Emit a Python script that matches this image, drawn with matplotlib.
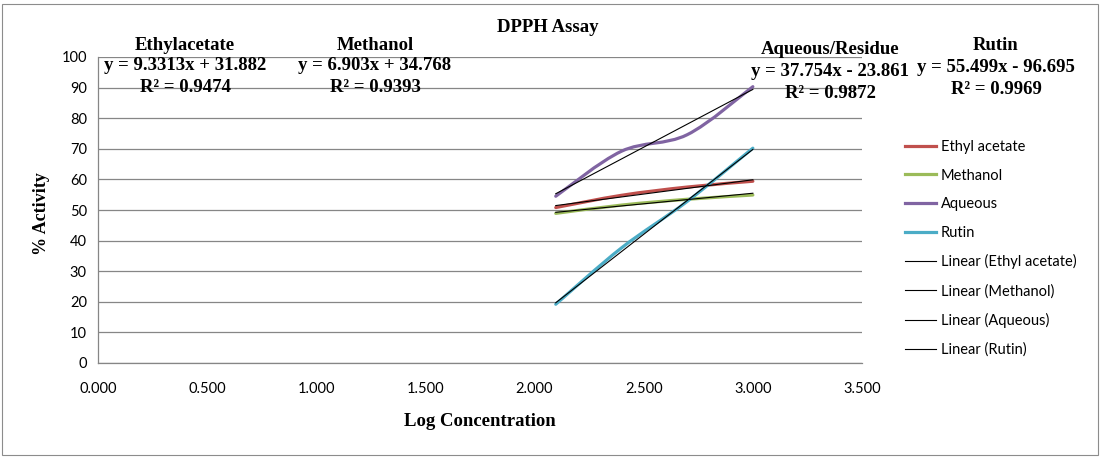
import matplotlib
matplotlib.use("Agg")
import matplotlib.pyplot as plt
from matplotlib.path import Path
from matplotlib.patches import PathPatch, Rectangle
from matplotlib.lines import Line2D
import numpy as np

# ---- data ----
log_conc = [2.097, 2.398, 2.699, 3.000]
series_names = ["Ethyl acetate", "Methanol", "Aqueous", "Rutin"]
ethyl_acetate = [50.8, 54.8, 57.5, 59.4]
methanol = [48.9, 51.6, 53.5, 54.9]
aqueous = [54.5, 69.2, 74.6, 90.3]
rutin = [19.2, 37.6, 52.8, 70.2]
series_colors = ["#C0504D", "#9BBB59", "#8064A2", "#4BACC6"]
slopes = [9.3313, 6.903, 37.754, 55.499]
intercepts = [31.882, 34.768, -23.861, -96.695]
r2 = [0.9474, 0.9393, 0.9872, 0.9969]
eq_titles = ["Ethylacetate", "Methanol", "Aqueous/Residue", "Rutin"]
x_ticks = [0.0, 0.5, 1.0, 1.5, 2.0, 2.5, 3.0, 3.5]
y_ticks = list(range(0, 101, 10))

W, H = 1102, 458
fig = plt.figure(figsize=(W / 100, H / 100), dpi=100)
fig.patch.set_facecolor("white")
fig.add_artist(Rectangle((2 / W, 3 / H), (W - 6) / W, (H - 7) / H, transform=fig.transFigure,
                         fill=False, edgecolor="#8c8c8c", linewidth=0.8))

def fx(px):
    return px / W

def fy(py):
    return 1 - py / H

ax = fig.add_axes([fx(98), fy(363), (862 - 98) / W, (363 - 57) / H])
ax.set_xlim(0, 3.5)
ax.set_ylim(0, 100)
ax.set_xticks(x_ticks)
ax.set_yticks(y_ticks)
ax.set_xticklabels([f"{v:.3f}" for v in x_ticks], fontfamily="Lato", fontsize=10.5)
ax.set_yticklabels([str(v) for v in y_ticks], fontfamily="Lato", fontsize=10.5)
ax.tick_params(length=0, pad=8)
ax.tick_params(axis="x", pad=14)
ax.grid(axis="y", color="#868686", linewidth=0.9)
ax.set_axisbelow(True)
for s in ["top", "right"]:
    ax.spines[s].set_visible(False)
for s in ["left", "bottom"]:
    ax.spines[s].set_color("#868686")
    ax.spines[s].set_linewidth(0.9)

def smooth_path(xs, ys):
    pts = np.column_stack([xs, ys])
    n = len(pts)
    verts = [pts[0]]
    codes = [Path.MOVETO]
    for i in range(n - 1):
        p0 = pts[max(i - 1, 0)]
        p1 = pts[i]
        p2 = pts[i + 1]
        p3 = pts[min(i + 2, n - 1)]
        c1 = p1 + (p2 - p0) / 6
        c2 = p2 - (p3 - p1) / 6
        verts += [c1, c2, p2]
        codes += [Path.CURVE4] * 3
    return Path(verts, codes)

all_series = [ethyl_acetate, methanol, aqueous, rutin]
for vals, col in zip(all_series, series_colors):
    ax.add_patch(PathPatch(smooth_path(log_conc, vals), facecolor="none",
                           edgecolor=col, linewidth=2.3, capstyle="round", zorder=3))

xl = np.array([log_conc[0], log_conc[-1]])
for m, b in zip(slopes, intercepts):
    ax.plot(xl, m * xl + b, color="black", linewidth=0.8, zorder=4)

# legend
handles = [Line2D([], [], color=c, linewidth=2.3) for c in series_colors]
handles += [Line2D([], [], color="black", linewidth=0.8) for _ in series_names]
labels = series_names + [f"Linear ({n})" for n in series_names]
fig.legend(handles, labels, loc="upper left", bbox_to_anchor=(fx(905), fy(140)),
           frameon=False, prop={"family": "Lato", "size": 10.5}, handlelength=2.1,
           handletextpad=0.35, labelspacing=1.0, borderaxespad=0, borderpad=0)

serif = "Liberation Serif"
fs = 13.5
fig.text(fx(548), fy(28), "DPPH Assay", ha="center", va="center", fontfamily=serif,
         fontweight="bold", fontsize=fs)
fig.text(fx(480), fy(421), "Log Concentration", ha="center", va="center", fontfamily=serif,
         fontweight="bold", fontsize=fs)
fig.text(fx(42), fy(214), "% Activity", ha="center", va="center", rotation=90,
         fontfamily=serif, fontweight="bold", fontsize=13)

def fmt_eq(m, b):
    sign = "+" if b >= 0 else "-"
    return f"y = {m:g}x {sign} {abs(b):g}"

label_pos = [(185, 45, 66, 87), (375, 45, 66, 87), (830, 50, 71, 94), (996, 46, 68, 90)]
for t, m, b, r, (cx, y1, y2, y3) in zip(eq_titles, slopes, intercepts, r2, label_pos):
    fig.text(fx(cx), fy(y1), t, ha="center", va="center", fontfamily=serif, fontweight="bold", fontsize=fs)
    fig.text(fx(cx), fy(y2), fmt_eq(m, b), ha="center", va="center", fontfamily=serif, fontweight="bold", fontsize=fs)
    fig.text(fx(cx), fy(y3), f"R² = {r:g}", ha="center", va="center", fontfamily=serif, fontweight="bold", fontsize=fs)

fig.savefig("out.png", dpi=100)
